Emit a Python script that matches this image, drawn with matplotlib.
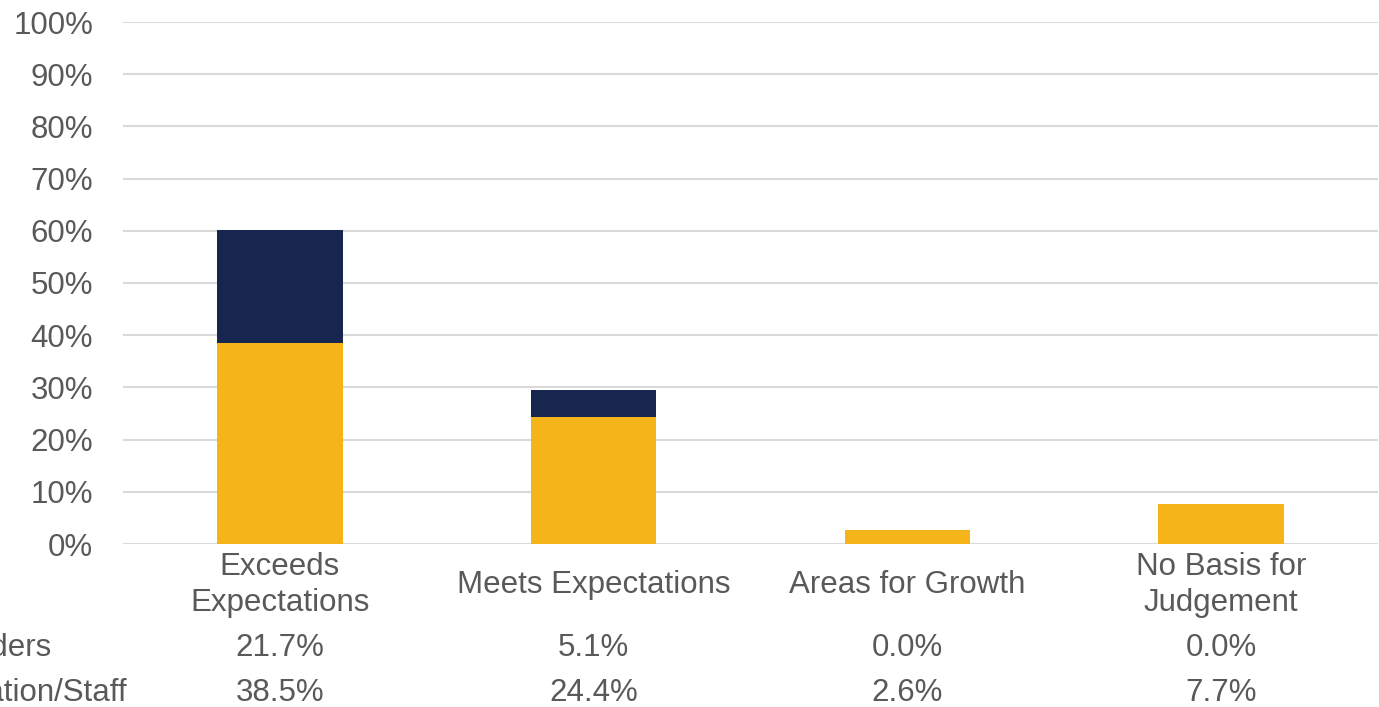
import matplotlib.pyplot as plt
import numpy as np

categories = ["Exceeds\nExpectations", "Meets Expectations", "Areas for Growth", "No Basis for\nJudgement"]
series_names = ["Leaders", "Administration/Staff"]
leaders = [21.7, 5.1, 0.0, 0.0]
admin_staff = [38.5, 24.4, 2.6, 7.7]
yticks = list(range(0, 101, 10))

NAVY = "#16264F"
GOLD = "#F5B41A"
TEXT = "#595959"
GRID = "#D9D9D9"
FS = 22.5

plt.rcParams["font.family"] = ["Liberation Sans", "DejaVu Sans"]

W, H = 1379, 707
fig = plt.figure(figsize=(W / 100, H / 100), dpi=100)
ax = fig.add_axes([123 / W, 163 / H, (1378 - 123) / W, (544 - 22) / H])

x = np.arange(len(categories))
ax.bar(x, admin_staff, width=0.4, color=GOLD, zorder=3)
ax.bar(x, leaders, width=0.4, bottom=admin_staff, color=NAVY, zorder=3)

ax.set_xlim(-0.5, len(categories) - 0.5)
ax.set_ylim(0, 100)
ax.set_yticks(yticks)
ax.set_yticklabels([f"{v}%" for v in yticks], fontsize=FS, color=TEXT)
ax.yaxis.grid(True, color=GRID, linewidth=1.5, zorder=0)
ax.tick_params(axis="y", length=0, pad=21.5)
ax.tick_params(axis="x", length=0)
ax.set_xticks([])
for s in ax.spines.values():
    s.set_visible(False)

# category labels and data table below the axis
def fig_y(py):
    return 1 - py / H

for xi, cat in zip(x, categories):
    xf = ax.transData.transform((xi, 0))[0] / W
    fig.text(xf, fig_y(585), cat, ha="center", va="center", fontsize=FS,
             color=TEXT, linespacing=1.26)
for row_y, name, vals in [(648, series_names[0], leaders), (693, series_names[1], admin_staff)]:
    for xi, v in zip(x, vals):
        xf = ax.transData.transform((xi, 0))[0] / W
        fig.text(xf, fig_y(row_y), f"{v:.1f}%", ha="center", va="center",
                 fontsize=FS, color=TEXT)

fig.text(52 / W, fig_y(648), series_names[0], ha="right", va="center", fontsize=FS, color=TEXT)
fig.text(128 / W, fig_y(693), series_names[1], ha="right", va="center", fontsize=FS, color=TEXT)

fig.savefig("out.png", dpi=100)
